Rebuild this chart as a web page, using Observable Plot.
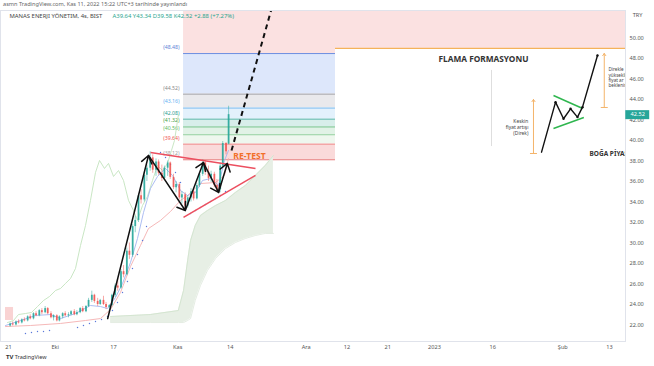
<!DOCTYPE html>
<html><head><meta charset="utf-8">
<script src="https://cdn.jsdelivr.net/npm/d3@7"></script>
<script src="https://cdn.jsdelivr.net/npm/@observablehq/plot@0.6"></script>
<style>
body{margin:0;background:#fff;font-family:"Noto Sans",Roboto,sans-serif;}
#hdr{height:10px;font-size:5.6px;line-height:8px;color:#666;padding-left:3px;white-space:nowrap;overflow:hidden;}
#chart{height:342px;}
#ftr{height:14px;font-size:5.5px;color:#333;padding-left:6px;line-height:10px;}
svg{display:block;}
</style></head><body>
<div id="hdr">asmn TradingView.com, Kas 11, 2022 15:22 UTC+3 tarihinde yayınlandı</div>
<div id="chart"></div>
<div id="ftr"><b style="font-size:6px">TV</b> TradingView</div>
<script>
// ---- data ----
const symbolName = "MANAS ENERJI YÖNETIM, 4s, BIST";
const candleOpen  = [21.9,22.1,22.0,22.3,22.2,22.5,22.4,22.8,22.6,23.1,22.9,23.4,23.2,23.6,23.1,22.7,22.9,22.4,22.8,23.1,22.9,23.0,23.3,23.0,23.2,23.6,23.3,23.8,24.4,24.9,24.3,24.0,24.4,24.0,23.7,23.9,24.9,25.8,25.6,27.2,26.9,29.2,28.8,31.6,32.2,34.6,34.2,36.6,37.3,38.3,37.1,37.9,36.8,36.3,37.3,37.8,36.4,35.4,35.7,34.4,34.7,33.6,34.4,35.0,34.3,35.6,36.7,37.8,36.9,36.3,36.7,35.6,35.2,37.5,39.7,39.64];
const candleHigh  = [22.2,22.3,22.4,22.5,22.6,22.7,22.9,23.0,23.2,23.3,23.5,23.6,23.8,23.7,23.3,23.0,23.0,22.9,23.2,23.3,23.2,23.4,23.5,23.4,23.7,23.8,23.9,24.6,25.3,25.0,24.6,24.5,24.8,24.2,24.0,25.0,26.0,26.5,27.4,27.8,29.5,30.0,31.8,32.6,34.8,35.2,36.9,37.6,38.9,38.6,38.2,38.1,37.6,37.5,38.0,37.9,36.7,36.0,35.9,35.0,34.9,34.6,35.3,35.2,35.8,36.9,38.1,38.0,37.5,37.0,36.9,36.2,37.8,39.9,39.8,43.34];
const candleLow   = [21.8,21.9,21.9,22.1,22.1,22.3,22.3,22.5,22.5,22.8,22.8,23.0,23.1,23.0,22.6,22.4,22.3,22.3,22.6,22.8,22.7,22.9,22.9,22.9,23.1,23.2,23.2,23.7,24.2,24.1,23.8,23.9,23.9,23.5,23.3,23.8,24.7,25.3,25.5,26.6,26.8,28.4,28.6,31.0,32.0,33.8,34.0,36.0,37.0,36.8,36.5,36.6,36.0,36.1,36.5,36.2,35.2,34.9,34.2,33.8,33.3,33.4,34.0,34.1,34.2,35.4,36.5,36.6,36.0,35.9,35.4,35.0,34.9,37.3,38.6,39.58];
const candleClose = [22.1,22.0,22.3,22.2,22.5,22.4,22.8,22.6,23.1,22.9,23.4,23.2,23.6,23.1,22.7,22.9,22.4,22.8,23.1,22.9,23.0,23.3,23.0,23.2,23.6,23.3,23.8,24.4,24.9,24.3,24.0,24.4,24.0,23.7,23.9,24.9,25.8,25.6,27.2,26.9,29.2,28.8,31.6,32.2,34.6,34.2,36.6,37.3,38.3,37.1,37.9,36.8,36.3,37.3,37.8,36.4,35.4,35.7,34.4,34.7,33.6,34.4,35.0,34.3,35.6,36.7,37.8,36.9,36.3,36.7,35.6,35.2,37.5,39.7,38.9,42.52];

// Ichimoku pieces, x in trading-day index
const cloudDay = [17.5,24.3,29.1,30.0,30.7,31.2,32.0,32.9,34.1,35.5,37.2,38.9,40.6,42.3,44.0,45.4];
const spanA    = [22.83,23.02,23.41,25.37,28.29,30.24,31.71,32.68,33.17,33.66,34.15,34.93,35.61,36.59,37.56,38.54];
const spanB    = [22.24,22.24,22.24,22.24,22.44,22.63,24.39,25.85,27.32,28.49,29.46,30.05,30.44,30.73,30.93,30.93];
const lagDay = [-0.17,0.86,1.71,2.91,3.94,4.97,6.00,7.03,8.07,8.91,9.77,10.63,11.48,12.34,13.20,14.05,14.91,15.60,16.45,17.14,18.00,18.85,19.71,20.57,21.42,22.11,22.97,23.82,24.68,25.54,26.39,27.25,27.93,28.45,29.13];
const lagVal = [22.24,22.44,23.02,23.12,23.22,23.80,24.39,24.78,25.37,25.56,26.05,26.54,27.51,29.76,31.71,34.15,36.88,38.05,37.27,37.76,36.49,37.07,36.10,34.15,33.17,32.20,33.66,34.54,36.10,37.56,37.07,37.76,39.02,40.00,42.54];
const kijunDay = [-0.51,3.77,8.91,13.20,15.77,17.48,19.19,20.91,22.62,23.99,26.05,27.76,29.48,30.68,32.90,35.48,37.02,37.70];
const kijunVal = [21.85,21.95,22.15,22.44,22.63,23.51,25.17,27.71,29.76,31.41,32.20,33.07,34.15,34.63,35.80,35.90,36.59,38.24];
const tenkanDay = [-0.51,2.06,4.63,7.20,8.91,11.48,14.05,15.77,16.97,18.34,19.54,20.91,22.11,23.14,24.34,25.54,26.91,28.11,29.48,30.68,32.05,33.25,34.62,35.99,37.02,37.70];
const tenkanVal = [21.95,22.44,22.93,23.02,22.63,23.12,23.90,23.80,23.61,24.68,26.05,28.10,30.44,32.98,35.32,36.49,37.27,36.59,35.12,34.63,34.93,36.10,36.29,35.61,38.05,39.02];
const sarDay = [2.91,3.94,4.97,6.00,7.03,11.83,12.85,13.88,14.91,15.94,16.97,17.82,18.68,19.54,20.39,21.25,22.11,22.97,23.65,26.05,26.91,27.76,28.62,29.48,31.19,32.05,32.90,33.76,34.62,35.48,36.33,37.19];
const sarVal = [21.17,21.27,21.37,21.37,21.46,21.76,21.95,22.15,22.34,22.54,22.83,23.41,24.20,25.17,26.24,27.51,28.88,30.24,31.61,38.83,38.34,37.66,36.88,35.90,32.88,33.17,33.46,33.76,34.05,34.34,34.63,35.02];

// Fibonacci
const fibStart = 30.0, fibEnd = 56.04;
const fibLevels = [48.48,44.52,43.16,42.08,41.32,40.56,39.64,38.12];
const fibLineColor = ["#6d8ee0","#a3a3a8","#7cbcf0","#5cb8ac","#74c28c","#92cf9d","#f08c8c","#e67a7a"];
const fibLabelColor = ["#5c7fd6","#8a8a8a","#5fb0f2","#2a9d8f","#43a047","#5cb860","#ef5350","#9e9e9e"];
const fibBandFill = ["#dde7fb","#e9e9ec","#e3f1fc","#d8eeea","#e1f2e6","#eef7ee","#fadada"];
const fibTopFill = "#fbe1e1";

// drawings
const triangleLines = [{x1:24.34,y1:38.83,x2:42.33,y2:37.27},{x1:29.99,y1:32.49,x2:42.33,y2:36.59}];
const waveArrows = [
  {x1:17.0,y1:22.63,x2:23.99,y2:38.54},
  {x1:23.99,y1:38.54,x2:30.3,y2:33.17},
  {x1:30.3,y1:33.17,x2:33.4,y2:37.85},
  {x1:33.4,y1:37.85,x2:36.0,y2:34.93},
  {x1:36.0,y1:34.93,x2:37.5,y2:37.76}
];
const projection = [{x1:38.22,y1:39.02,x2:45.24,y2:53.17}];
const retest = [{x:41.3,y:38.49,label:"RE-TEST"}];
const leftPinkBox = [{x1:-0.51,x2:0.86,y1:22.44,y2:23.71}];

// flag formation inset
const insetTopLevel = 48.98;
const flagPathDay = [91.35,93.75,95.12,96.32,97.51,98.37,100.94];
const flagPathVal = [38.86,43.74,42.12,43.09,42.28,43.25,48.29];
const flagBounds = [{x1:93.4,y1:44.39,x2:98.4,y2:43.12},{x1:93.4,y1:41.17,x2:98.6,y2:42.24}];
const flagArrows = [{x:89.97,y1:38.73,y2:44.0},{x:102.1,y1:43.22,y2:48.49}];
const insetDivider = [{x:82.78,y1:46.83,y2:39.41}];
const insetTitles = [
  {x:81.4,y:47.9,t:"FLAMA FORMASYONU"},
  {x:99.57,y:38.73,t:"BOĞA PİYASASI"}
];
const insetNotes = [
  {x:89.1,y:41.27,t:"Keskin\nfiyat artışı\n(Direk)"},
  {x:102.83,y:46.15,t:"Direkle\nyüksekli\nfiyat ar\nbeklenir"}
];

// axes
const tickDays = [0,8,18,29,38,51,58,65,73,83,95,103];
const tickLabels = ["21","Eki","17","Kas","14","Ara","12","21","2023","16","Şub","13"];
const yTicks = [22,24,26,28,30,32,34,36,38,40,42,44,46,48,50];
const currency = "TRY";

// ---- build ----
const candles = candleOpen.map((o,k) => ({
  x: Math.floor(k/2) + (k%2 ? 0.72 : 0.28), o, h: candleHigh[k], l: candleLow[k], c: candleClose[k]
}));
const last = candles[candles.length-1];
const chg = last.c - last.o;
const legendVals = `A${last.o.toFixed(2)} Y${last.h.toFixed(2)} D${last.l.toFixed(2)} K${last.c.toFixed(2)} +${chg.toFixed(2)} (+${(chg/last.o*100).toFixed(2)}%)`;
const cloud = cloudDay.map((d,i)=>({x:d,a:spanA[i],b:spanB[i]}));
const pts = (xs,ys)=>xs.map((x,i)=>({x,y:ys[i]}));
const fibBands = fibBandFill.map((f,i)=>({y1:fibLevels[i+1],y2:fibLevels[i],f}));
const fibRows = fibLevels.map((v,i)=>({v,lc:fibLineColor[i],tc:fibLabelColor[i]}));
const xDom = [-1.371, 105.74];
const yDom = [20.39, 52.68];
const green = "#26a69a", red = "#ef5350";
const col = d => d.c >= d.o ? green : red;

const chart = Plot.plot({
  width: 654, height: 342,
  marginTop: 0, marginBottom: 11, marginLeft: 0, marginRight: 29,
  style: {fontFamily: "'Noto Sans', Roboto, sans-serif", fontSize: "6px", background: "#fff"},
  x: {type: "linear", domain: xDom, axis: null},
  y: {type: "linear", domain: yDom, axis: null},
  marks: [
    // pink top zones
    Plot.rect([{x1:fibStart,x2:fibEnd,y1:fibLevels[0],y2:60}], {x1:"x1",x2:"x2",y1:"y1",y2:"y2",fill:fibTopFill,clip:true}),
    Plot.rect([{x1:fibEnd,x2:xDom[1],y1:insetTopLevel,y2:60}], {x1:"x1",x2:"x2",y1:"y1",y2:"y2",fill:fibTopFill,clip:true}),
    Plot.ruleY([insetTopLevel], {x1:fibEnd, x2:xDom[1], stroke:"#f5b25a", strokeWidth:1.2}),
    // fib bands
    Plot.rect(fibBands, {x1:fibStart,x2:fibEnd,y1:"y1",y2:"y2",fill:"f"}),
    Plot.ruleY(fibRows, {y:"v", x1:fibStart, x2:fibEnd, stroke:"lc", strokeWidth:1}),
    Plot.text(fibRows, {x:fibStart, y:"v", text:d=>`(${d.v.toFixed(2)})`, fill:"tc", textAnchor:"end", dx:-4, dy:-6.3, fontSize:5.2}),
    Plot.rect(leftPinkBox, {x1:"x1",x2:"x2",y1:"y1",y2:"y2",fill:"#f9d3d3"}),
    // cloud
    Plot.areaY(cloud, {x:"x", y1:"b", y2:"a", fill:"#e7efe5"}),
    Plot.line(cloud, {x:"x", y:"a", stroke:"#cfe2cc", strokeWidth:0.8}),
    Plot.line(cloud, {x:"x", y:"b", stroke:"#dde7da", strokeWidth:0.8}),
    // indicator lines
    Plot.line(pts(lagDay,lagVal), {x:"x", y:"y", stroke:"#c3e3bd", strokeWidth:0.9}),
    Plot.line(pts(kijunDay,kijunVal), {x:"x", y:"y", stroke:"#f4b0b0", strokeWidth:0.9}),
    Plot.line(pts(tenkanDay,tenkanVal), {x:"x", y:"y", stroke:"#a3b6f0", strokeWidth:0.9}),
    Plot.dot(pts(sarDay,sarVal), {x:"x", y:"y", r:0.7, fill:"#5a78da", stroke:null}),
    // candles
    Plot.ruleX(candles, {x:"x", y1:"l", y2:"h", stroke:col, strokeWidth:0.6, strokeOpacity:0.85}),
    Plot.ruleX(candles, {x:"x", y1:"o", y2:"c", stroke:col, strokeWidth:1.8, strokeOpacity:0.85}),
    // drawings
    Plot.link(triangleLines, {x1:"x1",y1:"y1",x2:"x2",y2:"y2",stroke:"#ec4f5f",strokeWidth:1.5}),
    Plot.arrow(waveArrows, {x1:"x1",y1:"y1",x2:"x2",y2:"y2",stroke:"#111",strokeWidth:1.5,headLength:9,headAngle:70}),
    Plot.link(projection, {x1:"x1",y1:"y1",x2:"x2",y2:"y2",stroke:"#111",strokeWidth:2,strokeDasharray:"5,4",clip:true}),
    Plot.text(retest, {x:"x",y:"y",text:"label",fill:"#f2702a",fontSize:8.6,fontWeight:"bold"}),
    // inset
    Plot.ruleX(insetDivider, {x:"x",y1:"y1",y2:"y2",stroke:"#d4d4d4",strokeWidth:0.8}),
    Plot.arrow(flagArrows, {x1:"x",x2:"x",y1:"y1",y2:"y2",stroke:"#f4b46a",strokeWidth:1,headLength:4,headAngle:70}),
    Plot.link(flagArrows, {x1:d=>d.x-0.6,x2:d=>d.x+0.6,y1:"y1",y2:"y1",stroke:"#f4b46a",strokeWidth:1}),
    Plot.link(flagBounds, {x1:"x1",y1:"y1",x2:"x2",y2:"y2",stroke:"#2fb64f",strokeWidth:1.5}),
    Plot.line(pts(flagPathDay,flagPathVal), {x:"x",y:"y",stroke:"#111",strokeWidth:1.4}),
    Plot.dot(pts(flagPathDay,flagPathVal).slice(1), {x:"x",y:"y",r:1.2,fill:"#111"}),
    Plot.text(insetTitles.slice(0,1), {x:"x",y:"y",text:"t",textAnchor:"middle",fontSize:8.3,fontWeight:"bold",fill:"#333"}),
    Plot.text(insetTitles.slice(1), {x:"x",y:"y",text:"t",textAnchor:"start",fontSize:6.5,fontWeight:"bold",fill:"#333",clip:true}),
    Plot.text(insetNotes.slice(0,1), {x:"x",y:"y",text:"t",textAnchor:"end",fontSize:4.9,fill:"#444",lineHeight:1.2}),
    Plot.text(insetNotes.slice(1), {x:"x",y:"y",text:"t",textAnchor:"start",fontSize:4.6,fill:"#444",lineHeight:1.1,clip:true}),
    // legend
    Plot.text([symbolName], {frameAnchor:"top-left", dx:9, dy:6, lineAnchor:"middle", textAnchor:"start", text:d=>d, fill:"#444", fontSize:5.9}),
    Plot.text([legendVals], {frameAnchor:"top-left", dx:112, dy:6, lineAnchor:"middle", textAnchor:"start", text:d=>d, fill:"#2aa68f", fontSize:5.9}),
    // frame & axes
    Plot.frame({stroke:"#e0e3eb"}),
    Plot.axisY({ticks:yTicks, anchor:"right", tickSize:0, tickPadding:4, tickFormat:d=>d.toFixed(2), fontSize:5.6, fill:"#555", label:null}),
    Plot.axisX({ticks:tickDays, anchor:"bottom", tickSize:0, tickPadding:4, tickFormat:d=>tickLabels[tickDays.indexOf(d)], fontSize:5.6, fill:"#555", label:null}),
    Plot.text([currency], {frameAnchor:"top-right", dx:12, dy:5, lineAnchor:"middle", text:d=>d, fill:"#555", fontSize:5.6, textAnchor:"middle"}),
    Plot.ruleY([last.c], {x1:xDom[1]+0.05, x2:xDom[1]+4.15, stroke:green, strokeWidth:9}),
    Plot.text([last.c], {x:xDom[1]+2.1, y:d=>d, text:d=>d.toFixed(2), fill:"#fff", fontSize:5.6})
  ]
});
document.getElementById("chart").appendChild(chart);
</script>
</body></html>
